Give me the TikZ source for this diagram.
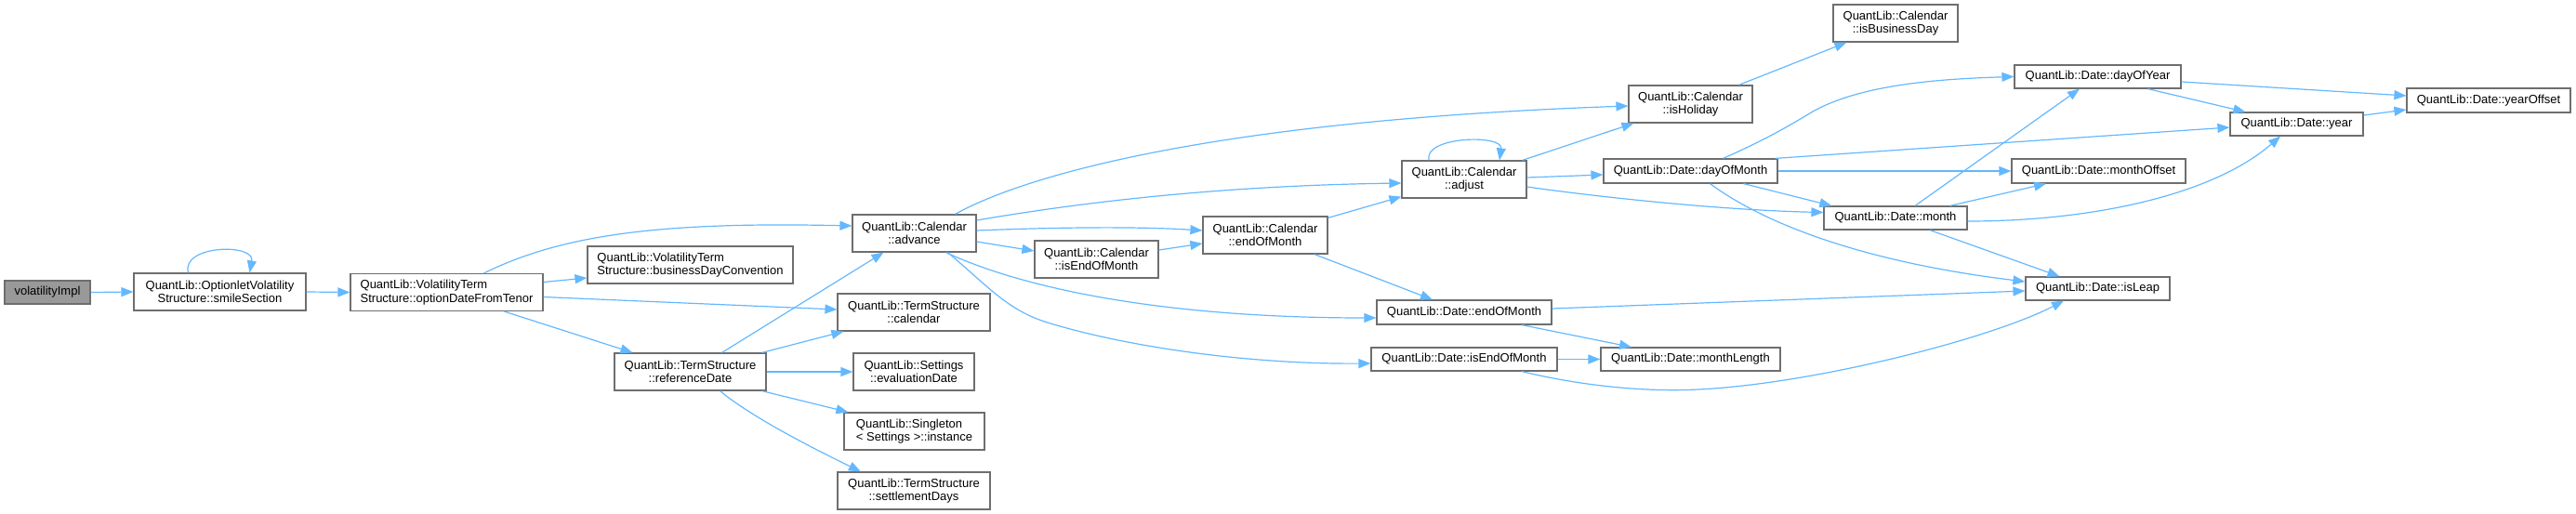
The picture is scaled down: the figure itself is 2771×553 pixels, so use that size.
\documentclass[tikz,border=0pt]{standalone}
\usepackage{fontspec}
\setmainfont{Liberation Sans}
\usetikzlibrary{arrows.meta,calc}
\definecolor{edgecol}{HTML}{63B8FF}
\definecolor{boxborder}{HTML}{6E6E6E}
\definecolor{rootfill}{HTML}{999999}
\begin{document}
\begin{tikzpicture}[x=1pt,y=-1pt,
  box/.style={draw=boxborder, line width=1.2pt, fill=white, inner sep=0pt, font=\fontsize{13}{14.5}\selectfont, align=center},
  lbox/.style={box, align=left},
  rootbox/.style={box, fill=rootfill},
  edge/.style={draw=edgecol, line width=1.2pt, -{Triangle[length=13pt,width=10pt]}},
]
\useasboundingbox (0,0) rectangle (2771,553);

% nodes
\node[rootbox, minimum width=92pt, minimum height=25pt] (vi) at (51,314.5) {volatilityImpl};
\node[box, minimum width=185pt, minimum height=40pt] (ss) at (236.5,314) {QuantLib::OptionletVolatility\\Structure::smileSection};
\node[lbox, minimum width=207pt, minimum height=40pt] (odt) at (480.5,314.5) {QuantLib::VolatilityTerm\\Structure::optionDateFromTenor};
\node[lbox, minimum width=221pt, minimum height=40pt] (bdc) at (742.5,285) {QuantLib::VolatilityTerm\\Structure::businessDayConvention};
\node[box, minimum width=133pt, minimum height=40pt] (adv) at (983.5,251) {QuantLib::Calendar\\::advance};
\node[box, minimum width=164pt, minimum height=40pt] (tsc) at (983,336) {QuantLib::TermStructure\\::calendar};
\node[box, minimum width=163pt, minimum height=40pt] (rd) at (742.5,400) {QuantLib::TermStructure\\::referenceDate};
\node[box, minimum width=130pt, minimum height=40pt] (ed) at (983,400) {QuantLib::Settings\\::evaluationDate};
\node[lbox, minimum width=151pt, minimum height=40pt] (sgl) at (983.5,464) {QuantLib::Singleton\\< Settings >::instance};
\node[box, minimum width=164pt, minimum height=40pt] (sd) at (983,528) {QuantLib::TermStructure\\::settlementDays};
\node[box, minimum width=133pt, minimum height=40pt] (cieom) at (1179.5,279) {QuantLib::Calendar\\::isEndOfMonth};
\node[box, minimum width=134pt, minimum height=40pt] (ceom) at (1361,253) {QuantLib::Calendar\\::endOfMonth};
\node[box, minimum width=134pt, minimum height=40pt] (adj) at (1575,193) {QuantLib::Calendar\\::adjust};
\node[box, minimum width=188pt, minimum height=26pt] (deom) at (1575,336) {QuantLib::Date::endOfMonth};
\node[box, minimum width=200pt, minimum height=25pt] (dieom) at (1575,386.5) {QuantLib::Date::isEndOfMonth};
\node[box, minimum width=133pt, minimum height=40pt] (hol) at (1818.5,112) {QuantLib::Calendar\\::isHoliday};
\node[box, minimum width=187pt, minimum height=26pt] (dom) at (1818.5,184) {QuantLib::Date::dayOfMonth};
\node[box, minimum width=193pt, minimum height=25pt] (mlen) at (1818.5,386.5) {QuantLib::Date::monthLength};
\node[box, minimum width=134pt, minimum height=40pt] (ibd) at (2039,25) {QuantLib::Calendar\\::isBusinessDay};
\node[box, minimum width=179pt, minimum height=25pt] (doy) at (2256.5,82.5) {QuantLib::Date::dayOfYear};
\node[box, minimum width=154pt, minimum height=25pt] (mon) at (2039,234.5) {QuantLib::Date::month};
\node[box, minimum width=187pt, minimum height=26pt] (mofs) at (2257.5,184) {QuantLib::Date::monthOffset};
\node[box, minimum width=155pt, minimum height=25pt] (leap) at (2256.5,310.5) {QuantLib::Date::isLeap};
\node[box, minimum width=143pt, minimum height=25pt] (yr) at (2470.5,133.5) {QuantLib::Date::year};
\node[box, minimum width=176pt, minimum height=26pt] (yofs) at (2677,108) {QuantLib::Date::yearOffset};

% edges
\draw[edge] (vi.east) -- (ss.west);
\draw[edge] ($(ss.north)+(-34,0)$) .. controls +(-8,-30) and +(6,-32) .. ($(ss.north)+(32,0)$);
\draw[edge] (ss.east) -- (odt.west);
\draw[edge] ($(odt.north)+(40,0)$) .. controls (600,255) and (700,238) .. ($(adv.west)+(0,-8)$);
\draw[edge] ($(odt.east)+(0,-11)$) -- ($(bdc.west)+(0,14)$);
\draw[edge] ($(odt.east)+(0,5)$) -- ($(tsc.west)+(0,-3)$);
\draw[edge] ($(odt.south)+(62,0)$) -- ($(rd.north)+(-62,0)$);
\draw[edge] ($(rd.north)+(34,0)$) -- ($(adv.south)+(-33,0)$);
\draw[edge] ($(rd.north east)+(-5,0)$) -- ($(tsc.south west)+(7,0)$);
\draw[edge] (rd.east) -- (ed.west);
\draw[edge] ($(rd.south east)+(-5,0)$) -- ($(sgl.north west)+(5,0)$);
\draw[edge] ($(rd.south)+(32,0)$) .. controls (810,450) and (880,485) .. ($(sd.north)+(-57,0)$);
\draw[edge] ($(adv.north)+(44,0)$) .. controls (1100,190) and (1300,130) .. ($(hol.west)+(0,2)$);
\draw[edge] ($(adv.east)+(0,-14)$) .. controls (1150,220) and (1300,200) .. ($(adj.west)+(0,4)$);
\draw[edge] ($(adv.east)+(0,-3)$) .. controls (1150,244) and (1230,244) .. ($(ceom.west)+(0,-5)$);
\draw[edge] ($(adv.east)+(0,9)$) -- ($(cieom.west)+(0,-9)$);
\draw[edge] ($(adv.south)+(34,0)$) .. controls (1100,310) and (1250,342) .. ($(deom.west)+(0,6)$);
\draw[edge] ($(adv.south)+(36,0)$) .. controls (1065,310) and (1085,335) .. (1130,348) .. controls (1220,375) and (1350,392) .. ($(dieom.west)+(0,4.5)$);
\draw[edge] ($(cieom.east)+(0,-10)$) -- ($(ceom.west)+(0,9)$);
\draw[edge] ($(ceom.north east)+(0,2)$) -- ($(adj.south west)+(0,-2)$);
\draw[edge] ($(ceom.south)+(53,0)$) -- ($(deom.north)+(-34,0)$);
\draw[edge] ($(adj.north)+(-38,0)$) .. controls +(-6,-26) and +(4,-28) .. ($(adj.north)+(38,0)$);
\draw[edge] ($(adj.north east)+(-5,0)$) -- ($(hol.south west)+(6,0)$);
\draw[edge] ($(adj.east)+(0,-2)$) -- ($(dom.west)+(0,4)$);
\draw[edge] ($(adj.east)+(0,8)$) .. controls (1720,212) and (1850,226) .. ($(mon.west)+(0,-6)$);
\draw[edge] ($(hol.north)+(52,0)$) -- ($(ibd.south west)+(15,0)$);
\draw[edge] ($(dom.north)+(35,0)$) .. controls (1900,150) and (1925,135) .. (1950,120) .. controls (2000,92) and (2080,85) .. (doy.west);
\draw[edge] ($(dom.north east)+(-3,0)$) -- ($(yr.west)+(0,3.5)$);
\draw[edge] (dom.east) -- (mofs.west);
\draw[edge] ($(dom.south)+(57,0)$) -- ($(mon.north west)+(9,0)$);
\draw[edge] ($(dom.south)+(21,0)$) .. controls (1890,235) and (1990,280) .. ($(leap.west)+(0,-7.5)$);
\draw[edge] ($(doy.east)+(0,5.5)$) -- ($(yofs.west)+(0,-5)$);
\draw[edge] ($(doy.south)+(54,0)$) -- ($(yr.north west)+(17,0)$);
\draw[edge] ($(yr.east)+(0,-9.5)$) -- ($(yofs.west)+(0,10)$);
\draw[edge] ($(mon.north)+(21,0)$) -- ($(doy.south)+(-19.5,0)$);
\draw[edge] ($(mon.north east)+(-19,0)$) -- ($(mofs.south)+(-56.5,0)$);
\draw[edge] ($(mon.east)+(0,3.5)$) .. controls (2250,238) and (2380,210) .. ($(yr.south)+(-17.5,0)$);
\draw[edge] ($(mon.south)+(37,0)$) -- ($(leap.north)+(-41,0)$);
\draw[edge] ($(deom.east)+(0,-4)$) -- ($(leap.west)+(0,2.5)$);
\draw[edge] ($(deom.south)+(62,0)$) -- ($(mlen.north)+(-63.5,0)$);
\draw[edge] (dieom.east) -- (mlen.west);
\draw[edge] ($(dieom.south)+(62,0)$) .. controls (1700,415) and (1770,422) .. (1827,419) .. controls (1950,413) and (2140,365) .. ($(leap.south)+(-36.5,0)$);
\end{tikzpicture}
\end{document}
